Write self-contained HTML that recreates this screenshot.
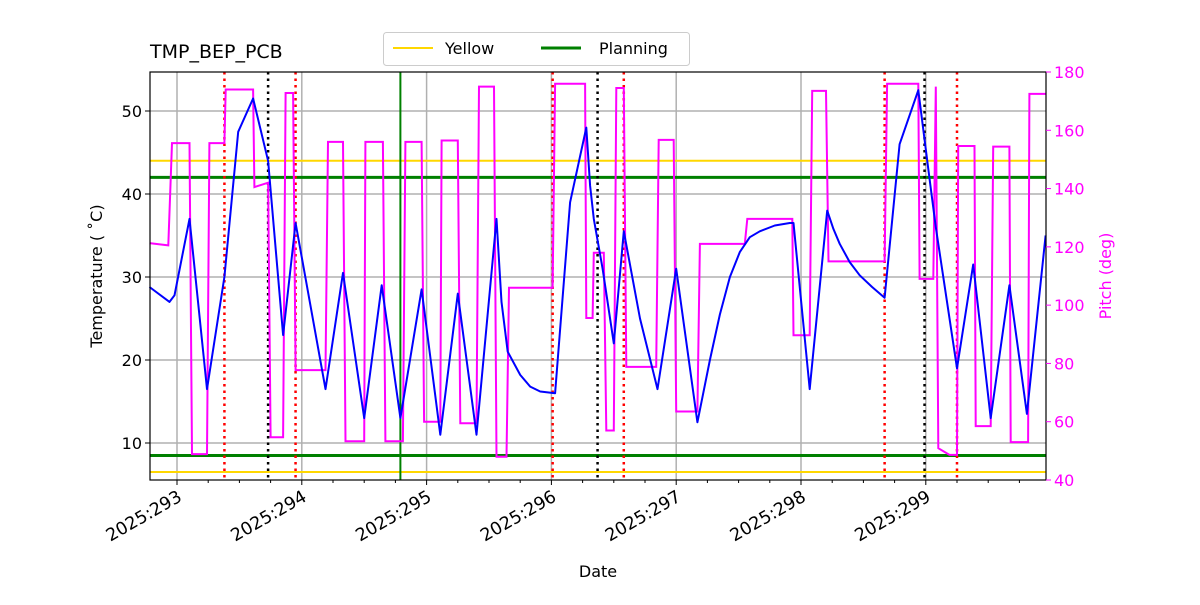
<!DOCTYPE html>
<html><head><meta charset="utf-8"><style>
body{margin:0;background:#fff;}
svg text{font-family:"DejaVu Sans","Liberation Sans",sans-serif;}
</style></head><body>
<svg id="chart" width="1200" height="600" xmlns="http://www.w3.org/2000/svg"></svg>
<script>
const tempTimes=[292.78,292.94,292.98,293.10,293.24,293.38,293.49,293.61,293.73,293.85,293.95,294.19,294.33,294.50,294.64,294.79,294.96,295.11,295.25,295.40,295.56,295.60,295.65,295.75,295.83,295.91,296.03,296.15,296.28,296.31,296.34,296.41,296.50,296.58,296.71,296.85,297.00,297.17,297.27,297.35,297.43,297.51,297.59,297.67,297.79,297.91,297.94,298.07,298.21,298.26,298.31,298.39,298.47,298.57,298.67,298.79,298.94,299.02,299.08,299.25,299.38,299.52,299.67,299.81,299.96];
const tempValues=[28.8,27,27.8,37,16.5,30,47.5,51.5,44,23,36.5,16.5,30.5,13,29,13,28.5,11,28,11,37,27,21,18.2,16.8,16.2,16,39,48,41,37,31,22,35.5,25,16.5,31,12.5,20,25.5,30,33,34.8,35.5,36.2,36.5,36.5,16.5,38,35.8,34,31.8,30.2,28.8,27.5,46,52.5,43,36,19,31.5,13,29,13.5,35];
const pitchTimes=[292.78,292.93,292.96,293.10,293.12,293.24,293.26,293.38,293.39,293.61,293.62,293.73,293.75,293.85,293.87,293.93,293.95,294.19,294.21,294.33,294.35,294.50,294.51,294.65,294.67,294.81,294.83,294.96,294.98,295.11,295.12,295.25,295.27,295.40,295.42,295.54,295.56,295.64,295.66,296.01,296.03,296.27,296.28,296.33,296.34,296.42,296.44,296.50,296.52,296.58,296.60,296.84,296.86,296.98,297.00,297.17,297.19,297.55,297.57,297.93,297.94,298.07,298.09,298.20,298.22,298.67,298.69,298.94,298.95,299.06,299.08,299.10,299.19,299.25,299.26,299.39,299.40,299.52,299.54,299.67,299.68,299.82,299.83,299.96];
const pitchValues=[121.3,120.5,155.6,155.6,48.9,48.9,155.6,155.6,174,174,140.5,142,54.7,54.7,172.8,172.8,77.7,77.7,156,156,53.3,53.3,156,156,53.3,53.3,156,156,60,60,156.5,156.5,59.5,59.5,175,175,48,48,106,106,176,176,95.6,95.6,118,118,57,57,174.5,174.5,78.8,78.8,156.7,156.7,63.5,63.5,121,121,129.6,129.6,89.7,89.7,173.5,173.5,115,115,176,176,109,109,175,50.9,48.6,48.6,154.6,154.6,58.5,58.5,154.4,154.4,53,53,172.5,172.5];
const yellowLimits=[44,6.5];
const planningLimits=[42,8.5];
const planningEvent=[294.79];
const redEvents=[293.38,293.95,296.01,296.58,298.67,299.25];
const blackEvents=[293.73,296.37,298.99];
const dayTicks=[293,294,295,296,297,298,299];
const tempTicks=[10,20,30,40,50];
const pitchTicks=[40,60,80,100,120,140,160,180];

const L=150,R=1046,T=72,B=480;
const x=d=>177+(d-293)*124.8;
const yT=v=>443-(v-10)*8.3;
const yP=v=>480-(v-40)*408/140;
const svg=document.getElementById('chart');
const NS='http://www.w3.org/2000/svg';
function mk(tag,attrs,parent){const e=document.createElementNS(NS,tag);for(const k in attrs)e.setAttribute(k,attrs[k]);(parent||svg).appendChild(e);return e;}

const grid=mk('g',{});


dayTicks.forEach(d=>{mk('line',{x1:x(d),x2:x(d),y1:T,y2:B,stroke:'#b0b0b0','stroke-width':1.5},grid);});
tempTicks.forEach(v=>{mk('line',{x1:L,x2:R,y1:yT(v),y2:yT(v),stroke:'#b0b0b0','stroke-width':1.5},grid);});

yellowLimits.forEach(v=>{const l=mk('line',{x1:L,x2:R,y1:yT(v),y2:yT(v),stroke:'#ffd700','stroke-width':2});

});
planningLimits.forEach(v=>{const l=mk('line',{x1:L,x2:R,y1:yT(v),y2:yT(v),stroke:'#008000','stroke-width':3});

});
planningEvent.forEach(d=>{const l=mk('line',{x1:x(d),x2:x(d),y1:T,y2:B,stroke:'#008000','stroke-width':2});

});
redEvents.forEach(d=>{const l=mk('line',{x1:x(d),x2:x(d),y1:T,y2:B,stroke:'#ff0000','stroke-width':2.5,'stroke-dasharray':'2.5,4'});

});
blackEvents.forEach(d=>{const l=mk('line',{x1:x(d),x2:x(d),y1:T,y2:B,stroke:'#000','stroke-width':2.5,'stroke-dasharray':'2.5,4'});

});

const pp=pitchTimes.map((d,i)=>x(d).toFixed(1)+','+yP(pitchValues[i]).toFixed(1)).join(' ');
const pl=mk('polyline',{points:pp,fill:'none',stroke:'#ff00ff','stroke-width':2});


const tp=tempTimes.map((d,i)=>x(d).toFixed(1)+','+yT(tempValues[i]).toFixed(1)).join(' ');
const tl=mk('polyline',{points:tp,fill:'none',stroke:'#0000ff','stroke-width':2,'stroke-linejoin':'round'});



const frame=mk('rect',{x:L,y:T,width:R-L,height:B-T,fill:'none',stroke:'#000','stroke-width':1.2});



for(let d=292.75;d<=300;d+=0.25){const px=x(d);if(px<L||px>R)continue;const major=Math.abs(d-Math.round(d))<1e-6;
mk('line',{x1:px,x2:px,y1:B,y2:B+(major?5:3),stroke:'#000','stroke-width':1});}
dayTicks.forEach(d=>{const ax=x(d)+6,ay=B+20;const t=mk('text',{x:ax,y:ay,'font-size':17.5,'text-anchor':'end',transform:`rotate(-30 ${ax} ${ay})`});
t.textContent='2025:'+d;

});
tempTicks.forEach(v=>{mk('line',{x1:L-5,x2:L,y1:yT(v),y2:yT(v),stroke:'#000'});
const t=mk('text',{x:L-8,y:yT(v)+6,'font-size':16,'text-anchor':'end'});t.textContent=v;

});
pitchTicks.forEach(v=>{mk('line',{x1:R,x2:R+5,y1:yP(v),y2:yP(v),stroke:'#ff00ff'});
const t=mk('text',{x:R+8,y:yP(v)+6,'font-size':16,fill:'#ff00ff'});t.textContent=v;

});

let t=mk('text',{x:598,y:577,'font-size':16,'text-anchor':'middle'});t.textContent='Date';


t=mk('text',{x:102,y:276,'font-size':16,'text-anchor':'middle',transform:'rotate(-90 102 276)'});
t.textContent='Temperature ( \u02DAC)';


t=mk('text',{x:1111,y:276,'font-size':16,'text-anchor':'middle',fill:'#ff00ff',transform:'rotate(-90 1111 276)'});t.textContent='Pitch (deg)';


t=mk('text',{x:150,y:58,'font-size':19});t.textContent='TMP_BEP_PCB';



const lg=mk('g',{});


mk('rect',{x:383.5,y:32.5,width:306,height:33,rx:3,fill:'#fff',stroke:'#ccc'},lg);
mk('line',{x1:393,x2:433,y1:48,y2:48,stroke:'#ffd700','stroke-width':2},lg);
t=mk('text',{x:445,y:54,'font-size':16},lg);t.textContent='Yellow';


mk('line',{x1:541,x2:581,y1:48,y2:48,stroke:'#008000','stroke-width':3},lg);
t=mk('text',{x:599,y:54,'font-size':16},lg);t.textContent='Planning';


</script>
</body></html>
